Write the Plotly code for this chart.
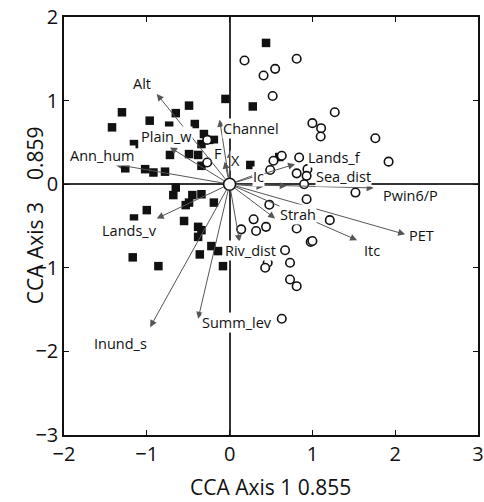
import plotly.graph_objects as go

# Sample scores: filled squares
sq_x = [0.44, -0.05, 0.28, -1.30, -1.42, -0.965, -0.65, -0.49, -0.73, -0.42, -1.155, -0.31, -0.19,
        -0.34, -0.72, -0.49, -0.38, -1.26, -1.02, -0.92, -0.78, -0.34, 0.25, 0.60,
        -0.65, -0.68, -0.45, -0.34, -0.49, -0.53, -0.19, -1.0, -1.155, -0.55, -0.38, -0.34,
        -0.38, -0.22, -0.14, -0.36, -1.17, -0.86, -0.08]
sq_y = [1.69, 1.02, 0.93, 0.86, 0.68, 0.76, 0.85, 0.94, 0.70, 0.72, 0.48, 0.60, 0.53,
        0.48, 0.35, 0.36, 0.35, 0.19, 0.18, 0.14, 0.15, 0.22, 0.23, 0.325,
        -0.04, -0.13, -0.13, -0.12, -0.22, -0.25, -0.22, -0.31, -0.41, -0.44, -0.51, -0.55,
        -0.63, -0.74, -0.80, -0.84, -0.875, -0.98, -0.98]

# Sample scores: open circles
ci_x = [0.18, 0.81, 0.41, 0.55, 0.52, 1.27, 1.0, 1.105, 1.10, 1.76, 1.92, 0.63, 0.53, 0.84,
        0.49, 0.81, 0.94, 0.93, 0.90, -0.27, -0.27,
        1.52, 0.93, 0.48, 1.21, 0.29, 0.14, 0.32, 0.44, 0.81, 0.98, 1.0, 0.67, 0.46, 0.43,
        0.73, 0.73, 0.81, 0.63]
ci_y = [1.48, 1.50, 1.30, 1.38, 1.055, 0.86, 0.73, 0.67, 0.57, 0.55, 0.27, 0.34, 0.28, 0.32,
        0.17, 0.13, 0.18, 0.10, 0.0, 0.53, 0.26,
        -0.10, -0.18, -0.245, -0.43, -0.42, -0.54, -0.56, -0.51, -0.53, -0.69, -0.68, -0.79,
        -0.94, -1.0, -0.94, -1.14, -1.22, -1.61]

# Environmental variable vectors (arrow tips)
var_names = ["Alt", "Plain_w", "Ann_hum", "Channel", "F", "X", "Ic", "Lands_f", "",
             "Sea_dist", "Pwin6/P", "Strah", "PET", "Itc", "Riv_dist", "Summ_lev",
             "Inund_s", "Lands_v"]
var_x = [-0.88, -0.72, -1.39, -0.12, -0.06, 0.01, 0.27, 0.79, 0.41,
         0.69, 1.74, 0.55, 2.12, 1.54, 0.12, -0.38, -0.96, -0.88]
var_y = [1.08, 0.44, 0.24, 0.77, 0.27, 0.40, 0.10, 0.24, -0.03,
         -0.02, -0.045, -0.41, -0.60, -0.67, -0.69, -1.61, -1.71, -0.41]
var_head = [2, 2, 2, 2, 2, 2, 0, 2, 2, 2, 2, 2, 2, 2, 2, 2, 2, 2]
# Label positions
lab_x = [-1.06, -0.76, -1.54, 0.26, -0.135, 0.075, 0.35, 1.27, None,
         1.37, 2.185, 0.83, 2.32, 1.72, 0.255, 0.087, -1.32, -1.21]
lab_y = [1.20, 0.57, 0.34, 0.67, 0.37, 0.28, 0.09, 0.32, None,
         0.09, -0.13, -0.36, -0.61, -0.79, -0.79, -1.66, -1.91, -0.55]

x_title = "CCA Axis 1 0.855"
y_title = "CCA Axis 3    0.859"

FONT = "Open Sans"

fig = go.Figure()
fig.add_trace(go.Scatter(x=sq_x, y=sq_y, mode="markers",
                         marker=dict(symbol="square", size=8.5, color="#111"),
                         showlegend=False, hoverinfo="skip"))
fig.add_trace(go.Scatter(x=ci_x, y=ci_y, mode="markers",
                         marker=dict(symbol="circle", size=8.5, color="white",
                                     line=dict(color="#111", width=1.6)),
                         showlegend=False, hoverinfo="skip"))

annotations = []
for n, x, y, h in zip(var_names, var_x, var_y, var_head):
    annotations.append(dict(x=x, y=y, ax=0, ay=0, xref="x", yref="y", axref="x", ayref="y",
                            text="", showarrow=True, arrowhead=h, arrowsize=1.4,
                            arrowwidth=1, arrowcolor="#555", startstandoff=5))
for n, lx, ly in zip(var_names, lab_x, lab_y):
    if not n:
        continue
    annotations.append(dict(x=lx, y=ly, xref="x", yref="y", text=n, showarrow=False,
                            font=dict(family=FONT, size=14.5, color="#111"),
                            bgcolor="white", borderpad=0))

# axis titles
annotations.append(dict(x=0.498, y=-0.124, xref="paper", yref="paper", text=x_title,
                        showarrow=False, xanchor="center", yanchor="middle",
                        font=dict(family=FONT, size=21, color="#111")))
annotations.append(dict(x=-0.07, y=0.526, xref="paper", yref="paper", text=y_title,
                        showarrow=False, xanchor="center", yanchor="middle", textangle=-90,
                        font=dict(family=FONT, size=21, color="#111")))

fig.add_trace(go.Scatter(x=[0], y=[0], mode="markers",
                         marker=dict(symbol="circle", size=12, color="white",
                                     line=dict(color="#111", width=1.6)),
                         showlegend=False, hoverinfo="skip"))

axis_common = dict(showgrid=False, zeroline=True, zerolinecolor="#333", zerolinewidth=1.5,
                   showline=True, linecolor="#111", linewidth=1.5, mirror="ticks",
                   ticks="inside", ticklen=5, tickwidth=1.2, tickcolor="#111",
                   dtick=1, automargin=False,
                   tickfont=dict(family=FONT, size=20, color="#111"))

fig.update_layout(
    width=484, height=502,
    margin=dict(l=64, r=6, t=17, b=67),
    paper_bgcolor="white", plot_bgcolor="white",
    xaxis=dict(range=[-2, 3], tick0=-2, **axis_common),
    yaxis=dict(range=[-3, 2], tick0=-3, **axis_common),
    annotations=annotations,
)

fig.write_html("out.html", config={"displayModeBar": False},
               post_script="document.body.style.margin='0';document.body.style.overflow='hidden';")
